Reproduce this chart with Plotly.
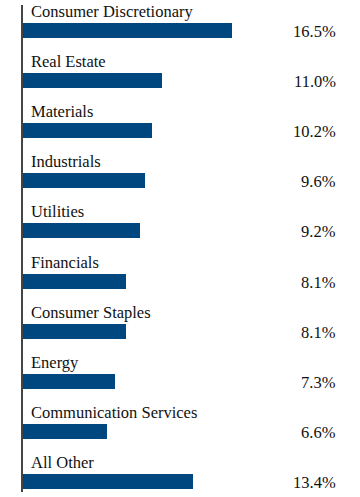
import plotly.graph_objects as go

categories = ["Consumer Discretionary", "Real Estate", "Materials", "Industrials",
              "Utilities", "Financials", "Consumer Staples", "Energy",
              "Communication Services", "All Other"]
values = [16.5, 11.0, 10.2, 9.6, 9.2, 8.1, 8.1, 7.3, 6.6, 13.4]
value_labels = ["16.5%", "11.0%", "10.2%", "9.6%", "9.2%", "8.1%", "8.1%", "7.3%", "6.6%", "13.4%"]

positions = list(range(len(categories)))
bar_color = "#00467f"
font = dict(family="Liberation Serif, 'Times New Roman', Times, serif", size=16.5, color="#111111")

fig = go.Figure()
fig.add_trace(go.Bar(
    x=values, y=positions, orientation="h",
    marker=dict(color=bar_color, line=dict(width=0)),
    width=0.3, hoverinfo="skip", showlegend=False,
))

annotations = []
for pos, cat, lab in zip(positions, categories, value_labels):
    annotations.append(dict(x=0, y=pos, xref="x", yref="y", text=cat,
                            xanchor="left", yanchor="middle", xshift=6, yshift=19,
                            showarrow=False, font=font))
    annotations.append(dict(x=0.935, y=pos, xref="paper", yref="y", text=lab,
                            xanchor="right", yanchor="middle", yshift=-1,
                            showarrow=False, font=font))

fig.update_layout(
    width=360, height=497,
    margin=dict(l=23, r=0, t=5, b=5),
    paper_bgcolor="white", plot_bgcolor="white",
    font=font,
    xaxis=dict(range=[0, 26.6], visible=False, fixedrange=True),
    yaxis=dict(range=[9.2, -0.5], showline=True, linecolor="#444444", linewidth=1.5,
               showticklabels=False, ticks="", showgrid=False, zeroline=False, fixedrange=True),
    annotations=annotations,
    bargap=0,
)
fig.write_html("out.html", config={"displayModeBar": False},
               post_script="document.body.style.margin='0';document.body.style.overflow='hidden';")
